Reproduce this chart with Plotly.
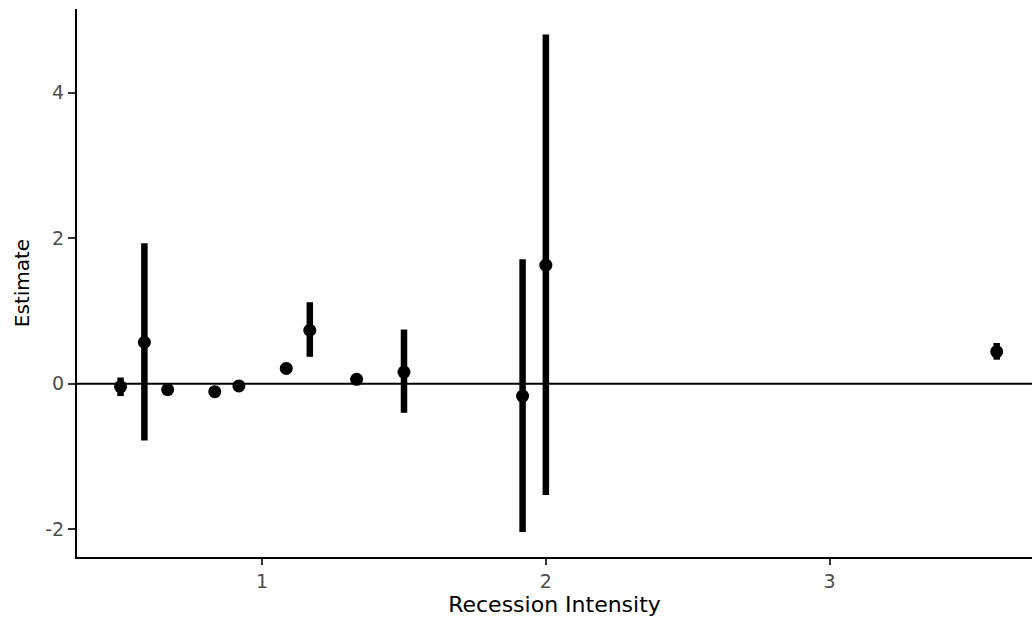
import plotly.graph_objects as go

# Estimates by recession intensity, with confidence bounds
intensity = [0.501, 0.585, 0.667, 0.833, 0.918, 1.085, 1.168, 1.333, 1.500, 1.918, 2.000, 3.589]
estimate = [-0.04, 0.57, -0.08, -0.11, -0.03, 0.21, 0.735, 0.06, 0.16, -0.17, 1.63, 0.44]
upper = [0.085, 1.93, -0.04, -0.07, 0.01, 0.26, 1.12, 0.10, 0.745, 1.71, 4.80, 0.56]
lower = [-0.17, -0.78, -0.12, -0.15, -0.07, 0.16, 0.37, 0.02, -0.40, -2.04, -1.53, 0.33]

x_ticks = [1, 2, 3]
y_ticks = [-2, 0, 2, 4]

err_plus = [u - e for u, e in zip(upper, estimate)]
err_minus = [e - l for e, l in zip(estimate, lower)]

fig = go.Figure()
fig.add_trace(go.Scatter(
    x=intensity, y=estimate, mode="markers",
    marker=dict(color="black", size=13),
    error_y=dict(type="data", symmetric=False, array=err_plus, arrayminus=err_minus,
                 color="black", thickness=6.5, width=0),
    showlegend=False,
))

fig.add_hline(y=0, line=dict(color="black", width=2), layer="below")

tick_font = dict(family="DejaVu Sans, sans-serif", size=19, color="#4D4D4D")
xtitle_font = dict(family="DejaVu Sans, sans-serif", size=22, color="black")
ytitle_font = dict(family="DejaVu Sans, sans-serif", size=20, color="black")

fig.update_layout(
    width=1032, height=626,
    margin=dict(l=77, r=0, t=9, b=69),
    plot_bgcolor="white", paper_bgcolor="white",
    xaxis=dict(
        range=[0.3475, 3.7135], tickvals=x_ticks, ticktext=[str(v) for v in x_ticks],
        showgrid=False, zeroline=False, showline=True, linecolor="black", linewidth=2,
        ticks="outside", ticklen=6, tickwidth=1.5, tickcolor="#333333",
        tickfont=tick_font,
        title=dict(text="Recession Intensity", font=xtitle_font, standoff=6),
    ),
    yaxis=dict(
        range=[-2.382, 5.151], tickvals=y_ticks, ticktext=[str(v) for v in y_ticks],
        showgrid=False, zeroline=False, showline=True, linecolor="black", linewidth=2,
        ticks="outside", ticklen=7, tickwidth=1.5, tickcolor="#333333",
        tickfont=tick_font,
        title=dict(text="Estimate", font=ytitle_font, standoff=10),
    ),
)

fig.write_html("out.html")
